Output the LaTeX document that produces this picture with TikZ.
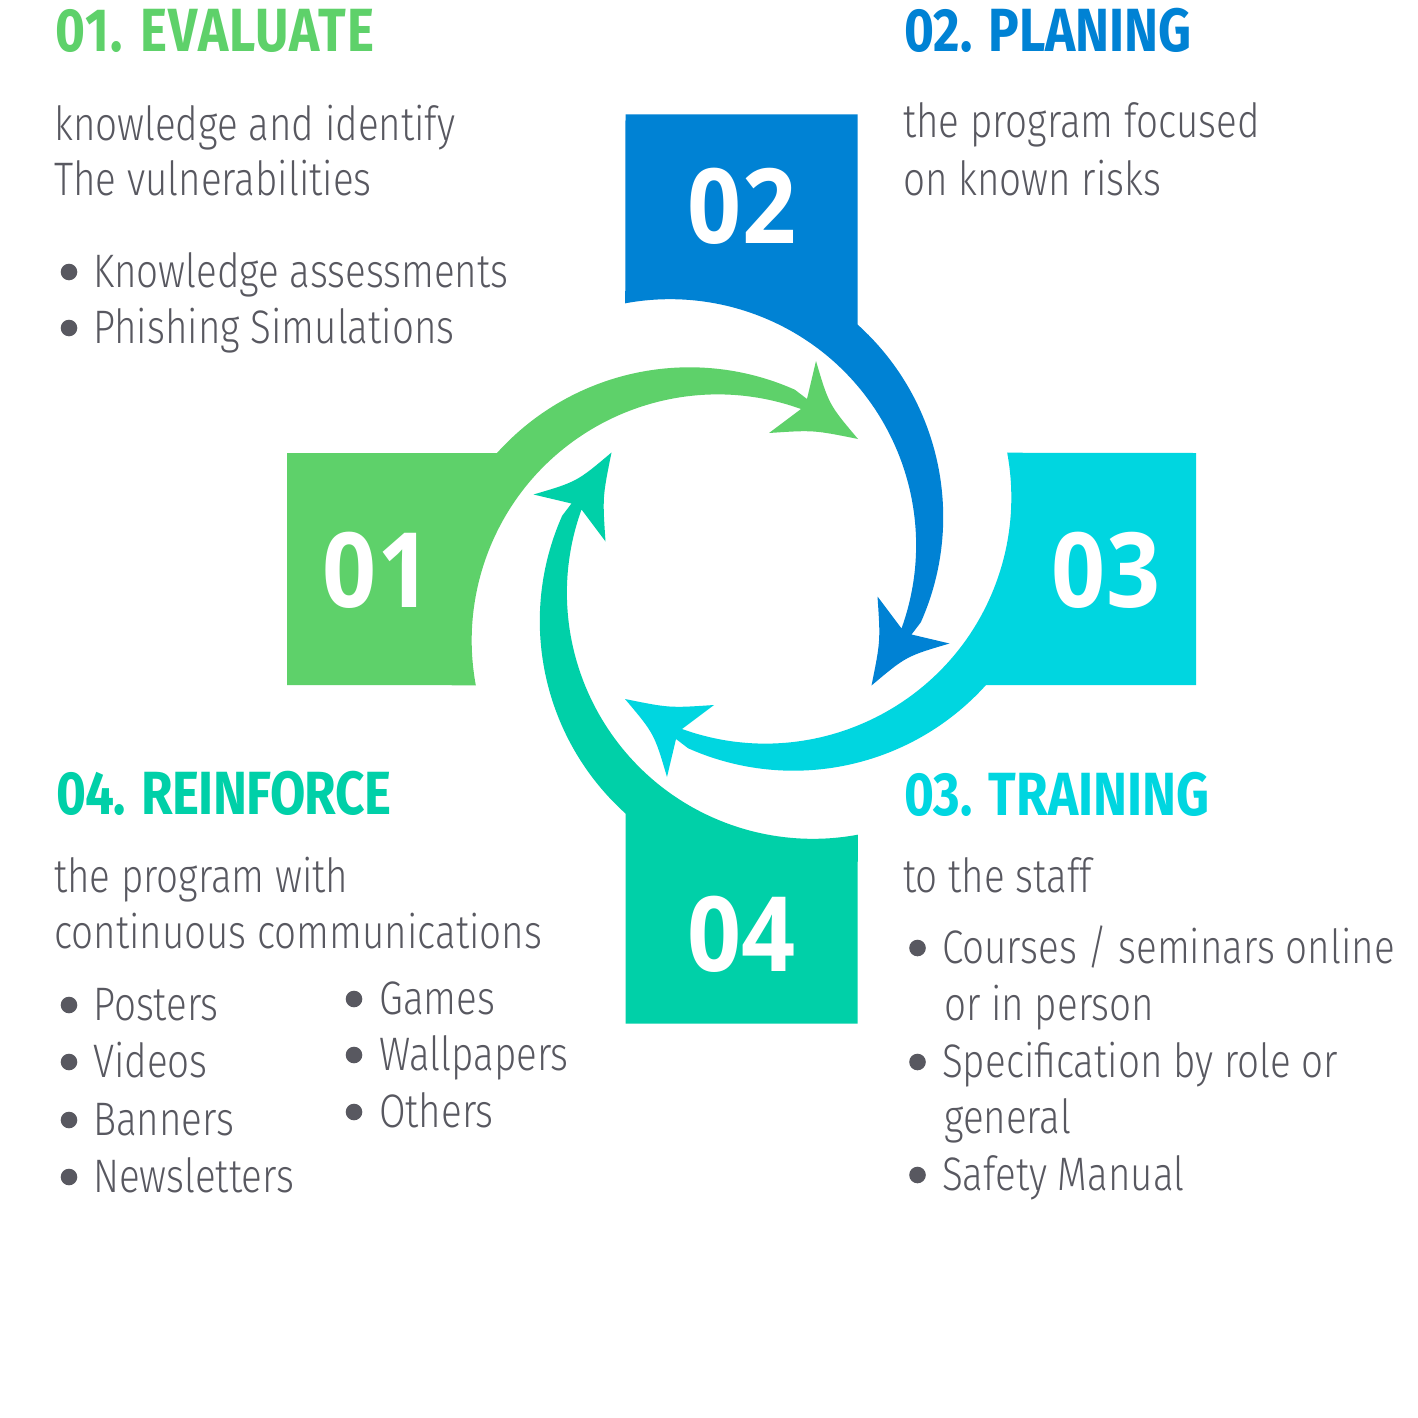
\documentclass[tikz,border=0pt]{standalone}
\usepackage{fontspec}
\newfontfamily\bodyfont{Fira Sans Light}[FakeStretch=0.82]
\newfontfamily\titlefont{Fira Sans Bold}[FakeStretch=0.84]
\newfontfamily\numfont{Open Sans}[FakeStretch=0.91]
\definecolor{cgreen}{RGB}{94,209,106}
\definecolor{cblue}{RGB}{0,130,212}
\definecolor{ccyan}{RGB}{0,214,224}
\definecolor{cteal}{RGB}{0,208,168}
\definecolor{tgray}{RGB}{88,88,96}
\newcommand\cyclepiece[2]{%
  \begin{scope}[rotate=#1]
    \fill[#2] (-454.5,116) -- (-244.5,116)
      arc[start angle=138,end angle=66,radius=259] -- (65.5,170) -- (74.5,208)
      .. controls (87.3,164.6) .. (116.5,130)
      .. controls (72,139) .. (27.5,136) -- (59.5,160)
      arc[start angle=70.2,end angle=190.5,radius=246] -- (-454.5,-116) -- cycle;
  \end{scope}}
\tikzset{
  num/.style={inner sep=0pt,text=white,font=\numfont\bfseries\fontsize{104}{104}\selectfont},
  ttl/.style={inner sep=0pt,anchor=base west,font=\titlefont\fontsize{61}{61}\selectfont},
  body/.style={inner sep=0pt,anchor=base west,text=tgray,font=\bodyfont\fontsize{47}{56}\selectfont},
  dot/.style={fill=tgray}
}
\begin{document}
\begin{tikzpicture}[x=1pt,y=1pt]
\useasboundingbox[fill=white] (0,0) rectangle (1418,-1418);
\begin{scope}[shift={(741.5,-569)}]
  \cyclepiece{0}{cgreen}
  \cyclepiece{-90}{cblue}
  \cyclepiece{-180}{ccyan}
  \cyclepiece{-270}{cteal}
  \node[num] (n1) at (-364.5,-1) {01};
  \node[num] (n2) at (0.5,363) {02};
  \node[num] (n3) at (364.5,-1) {03};
  \node[num] (n4) at (0,-365) {04};
\end{scope}
% 01 Evaluate
\node[ttl,text=cgreen] (t1) at (55,-52) {\addfontfeature{LetterSpace=2}01. EVALUATE};
\node[body] (e1) at (54,-140) {knowledge and identify};
\node[body] (e2) at (54,-195) {The vulnerabilities};
\fill[dot] (69,-272) circle[radius=8.3];
\node[body] (e3) at (93,-287) {Knowledge assessments};
\fill[dot] (69,-328) circle[radius=8.3];
\node[body] (e4) at (93,-343) {Phishing Simulations};
% 02 Planing
\node[ttl,text=cblue] (t2) at (904,-52) {02. PLANING};
\node[body] (p1) at (903,-138) {the program focused};
\node[body] (p2) at (903,-195) {on known risks};
% 03 Training
\node[ttl,text=ccyan] (t3) at (904,-815) {03. TRAINING};
\node[body] (r1) at (903,-892) {to the staff};
\fill[dot] (917.5,-948) circle[radius=8.3];
\node[body] (r2) at (942,-963) {Courses / seminars online};
\node[body] (r3) at (944,-1020) {or in person};
\fill[dot] (917.5,-1062) circle[radius=8.3];
\node[body] (r4) at (942,-1077) {Specification by role or};
\node[body] (r5) at (944,-1133) {general};
\fill[dot] (917.5,-1175) circle[radius=8.3];
\node[body] (r6) at (942,-1190) {Safety Manual};
% 04 Reinforce
\node[ttl,text=cteal] (t4) at (56,-814) {\addfontfeature{LetterSpace=-1}04. REINFORCE};
\node[body] (f1) at (54,-892) {the program with};
\node[body] (f2) at (54,-948) {continuous communications};
\fill[dot] (69,-1005) circle[radius=8.3];
\node[body] (f3) at (93,-1020) {Posters};
\fill[dot] (69,-1062) circle[radius=8.3];
\node[body] (f4) at (93,-1077) {Videos};
\fill[dot] (69,-1120) circle[radius=8.3];
\node[body] (f5) at (93,-1135) {Banners};
\fill[dot] (69,-1177) circle[radius=8.3];
\node[body] (f6) at (93,-1192) {Newsletters};
\fill[dot] (354,-999) circle[radius=8.3];
\node[body] (g1) at (379,-1014) {Games};
\fill[dot] (354,-1055) circle[radius=8.3];
\node[body] (g2) at (379,-1070) {Wallpapers};
\fill[dot] (354,-1112) circle[radius=8.3];
\node[body] (g3) at (379,-1127) {Others};
\end{tikzpicture}
\end{document}
